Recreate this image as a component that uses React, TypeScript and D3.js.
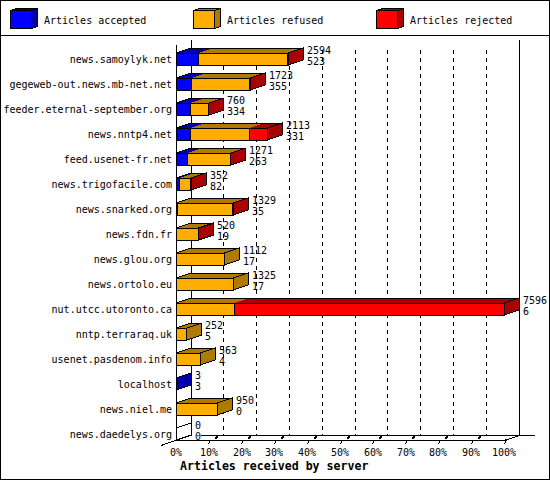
import React from "react";
import * as d3 from "d3";

const servers = ["news.samoylyk.net","gegeweb-out.news.mb-net.net","feeder.eternal-september.org","news.nntp4.net","feed.usenet-fr.net","news.trigofacile.com","news.snarked.org","news.fdn.fr","news.glou.org","news.ortolo.eu","nut.utcc.utoronto.ca","nntp.terraraq.uk","usenet.pasdenom.info","localhost","news.niel.me","news.daedelys.org"];
const accepted = [523,355,334,331,263,82,35,19,17,17,6,5,4,3,0,0];
const refused = [2056,1353,411,1376,988,250,1279,491,1095,1308,1348,247,559,0,950,0];
const rejected = [15,15,15,406,20,20,15,10,0,0,6242,0,0,0,0,0];
const topLabels = [2594,1723,760,2113,1271,352,1329,520,1112,1325,7596,252,563,3,950,0];
const bottomLabels = [523,355,334,331,263,82,35,19,17,17,6,5,4,3,0,0];
const percentTicks = [0,10,20,30,40,50,60,70,80,90,100];
const legendNames = ["Articles accepted","Articles refused","Articles rejected"];
const frontColors = ["#0000ff","#ffad00","#ff0000"];
const darkColors = ["#0000aa","#b07a00","#aa0000"];
const axisTitle = "Articles received by server";

const DX = 15, DY = 5, BAR_H = 12;
const x = d3.scaleLinear().domain([0, 7596]).range([176, 504]);
const pct = d3.scaleLinear().domain([0, 100]).range([176, 504]);
const y = d3.scaleBand<number>().domain(d3.range(servers.length)).range([53, 453]).paddingInner(0);
const mono = "'DejaVu Sans Mono', monospace";
const black = "#000";
const px = (v: number) => Math.floor(v) + 0.5;

const poly = (pts: number[][]) => (d3.line()(pts as [number, number][]) ?? "") + "Z";

export default function App() {
  React.useEffect(() => { document.body.style.margin = "0"; }, []);
  return (
    <svg width={550} height={480} style={{ display: "block", background: "#fff" }} shapeRendering="crispEdges">
      <rect x={0.5} y={0.5} width={549} height={479} fill="#fff" stroke={black} />
      <line x1={0} x2={550} y1={35.5} y2={35.5} stroke={black} />

      {legendNames.map((_, i) => {
        const lx = [10.5, 193.5, 376.5][i];
        const w = 21, h = 18, t = 10.5, dx = 6, dy = 2;
        return (
          <g key={i} stroke={black}>
            <path d={poly([[lx, t], [lx + dx, t - dy], [lx + w + dx, t - dy], [lx + w, t]])} fill={darkColors[i]} />
            <path d={poly([[lx + w, t], [lx + w + dx, t - dy], [lx + w + dx, t + h - dy], [lx + w, t + h]])} fill={darkColors[i]} />
            <rect x={lx} y={t} width={w} height={h} fill={frontColors[i]} />
          </g>
        );
      })}

      <g stroke={black} fill="none">
        <line x1={176.5} x2={176.5} y1={45} y2={440} />
        <line x1={191.5} x2={191.5} y1={40} y2={435} />
        <line x1={519.5} x2={519.5} y1={40} y2={435} />
        <line x1={176} x2={504} y1={440.5} y2={440.5} />
        <line x1={201} x2={535} y1={435.5} y2={435.5} />
        <line x1={161} y1={445.5} x2={191.5} y2={435} />
        <line x1={504} y1={440.5} x2={519.5} y2={435.5} />
        {percentTicks.slice(1, 10).map(p => (
          <line key={p} x1={px(pct(p) + DX)} x2={px(pct(p) + DX)} y1={50} y2={435} strokeDasharray="4 4" />
        ))}
        {percentTicks.slice(1).map(p => {
          const fx = px(pct(p));
          return (
            <g key={p}>
              <line x1={fx} y1={444} x2={fx + 2} y2={440} />
              {p < 100 && <line x1={fx + 7} y1={439} x2={fx + 9} y2={436} strokeWidth={2} />}
            </g>
          );
        })}
      </g>

      {servers.map((_, i) => {
        const top = y(i)!;
        const bottom = top + BAR_H;
        const vals = [accepted[i], refused[i], rejected[i]];
        let cum = 0;
        const segs = vals.map((v, k) => {
          const s = { k, x0: x(cum), x1: x(cum + v), v };
          cum += v;
          return s;
        }).filter(s => s.v > 0);
        const end = x(cum);
        const lastK = segs.length ? segs[segs.length - 1].k : -1;
        const sideFill = lastK >= 0 ? darkColors[lastK] : "none";
        return (
          <g key={i}>
            {segs.map(s => (
              <path key={s.k} d={poly([[s.x0, top], [s.x0 + DX, top - DY], [s.x1 + DX, top - DY], [s.x1, top]])} fill={darkColors[s.k]} />
            ))}
            {segs.length > 0 && (
              <path d={poly([[x(0), top], [x(0) + DX, top - DY], [end + DX, top - DY], [end, top]])} fill="none" stroke={black} />
            )}
            <path d={poly([[end, top], [end + DX, top - DY], [end + DX, bottom - DY], [end, bottom]])} fill={sideFill} stroke={black} />
            {segs.map(s => (
              <rect key={s.k} x={px(s.x0)} y={top + 0.5} width={Math.max(0, Math.floor(s.x1) - Math.floor(s.x0))} height={BAR_H} fill={frontColors[s.k]} stroke={black} />
            ))}
          </g>
        );
      })}

      <g fontFamily={mono} fontSize={10} fill={black} shapeRendering="auto">
        {legendNames.map((n, i) => (
          <text key={n} x={[44, 227, 410][i]} y={24}>{n}</text>
        ))}
        {servers.map((s, i) => (
          <text key={s} x={172} y={y(i)! + 10} textAnchor="end">{s}</text>
        ))}
        {servers.map((_, i) => {
          const lx = Math.floor(x(topLabels[i]) + DX + 4);
          return (
            <g key={i}>
              <text x={lx} y={y(i)! + 1}>{topLabels[i]}</text>
              <text x={lx} y={y(i)! + 12}>{bottomLabels[i]}</text>
            </g>
          );
        })}
        {percentTicks.map(p => (
          <text key={p} x={Math.round(pct(p))} y={456} textAnchor="middle">{p}%</text>
        ))}
        <text x={180} y={470} fontWeight="bold" fontSize={11.6}>{axisTitle}</text>
      </g>
    </svg>
  );
}
